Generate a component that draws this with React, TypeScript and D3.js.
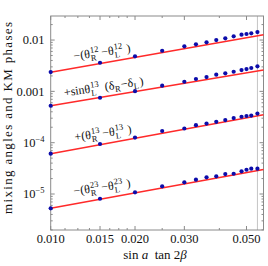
import React from "react";
import * as d3 from "d3";

const xValues = [0.010, 0.015, 0.020, 0.025, 0.030, 0.033, 0.036, 0.039, 0.042, 0.045, 0.048, 0.050, 0.052, 0.0547];
const s12 = [0.00238, 0.00361, 0.00481, 0.00619, 0.00754, 0.00824, 0.00902, 0.0100, 0.0108, 0.0118, 0.0127, 0.0131, 0.0135, 0.0143];
const s13phase = [5.25e-4, 7.51e-4, 1.01e-3, 1.29e-3, 1.54e-3, 1.74e-3, 1.90e-3, 2.11e-3, 2.25e-3, 2.41e-3, 2.60e-3, 2.72e-3, 2.85e-3, 3.07e-3];
const s13 = [6.10e-5, 9.42e-5, 1.26e-4, 1.69e-4, 1.89e-4, 2.19e-4, 2.36e-4, 2.55e-4, 2.76e-4, 3.02e-4, 3.20e-4, 3.31e-4, 3.38e-4, 3.70e-4];
const s23 = [5.26e-6, 8.09e-6, 1.08e-5, 1.41e-5, 1.69e-5, 1.90e-5, 2.11e-5, 2.21e-5, 2.45e-5, 2.48e-5, 2.77e-5, 2.97e-5, 3.11e-5, 3.11e-5];
const seriesList = [s12, s13phase, s13, s23];

// fitted red lines: value at x = 0.010 and at x = 0.0575
const lineX = [0.010, 0.0575];
const lineStart = [0.00235, 5.25e-4, 6.10e-5, 5.26e-6];
const lineEnd = [0.01264, 2.62e-3, 3.49e-4, 3.0e-5];

const xTicks = [0.010, 0.015, 0.020, 0.030, 0.050];
const xTickLabels = ["0.010", "0.015", "0.020", "0.030", "0.050"];
const xMinor = [0.01125, 0.0125, 0.01375, 0.01625, 0.0175, 0.01875, 0.025, 0.04];
const yDecades = [1e-5, 1e-4, 1e-3, 1e-2];
const yMain = ["", "", "0.001", "0.01"];
const yExp = ["\u22125", "\u22124", "", ""];
const markerX = 0.0547;

const FONT = "'Liberation Serif', 'Times New Roman', serif";

export default function App() {
  const L = 50.7, R = 263.5, T = 16, B = 230;
  const x = d3.scaleLog().domain([0.01, 0.0575]).range([L, R]);
  const y = d3.scaleLog().domain([1.99e-6, 0.0294]).range([B, T]);

  const minorY: number[] = [];
  for (let e = -6; e <= -2; e++) {
    for (let m = 2; m <= 9; m++) {
      const v = m * Math.pow(10, e);
      if (v > 1.99e-6 && v < 0.0294) minorY.push(v);
    }
  }
  const frame = "#8a8a8a";
  const FS = 12;
  const SM = 8.5;

  const labelParts = (pre: string, sp: string, sb1: string, sb2: string) => {
    const w = SM * 0.5 * sp.length;
    return (
      <text fontFamily={FONT} fontSize={FS} fill="#111">
        <tspan>{pre}</tspan>
        <tspan fontSize={SM} dx={0.5} dy={-4.8}>{sp}</tspan>
        <tspan fontSize={SM} dx={-w} dy={8.3}>{sb1}</tspan>
        <tspan dx={w - SM * 0.6 + 2} dy={-3.5}>{"\u2212\u03B8"}</tspan>
        <tspan fontSize={SM} dx={0.5} dy={-4.8}>{sp}</tspan>
        <tspan fontSize={SM} dx={-w} dy={8.3}>{sb2}</tspan>
        <tspan dx={w - SM * 0.55 + 3.5} dy={-3.5}>{")"}</tspan>
      </text>
    );
  };

  return (
    <svg width={268} height={266} style={{ position: "absolute", left: 0, top: 0, background: "#fff" }}>
      <line x1={x(markerX)} x2={x(markerX)} y1={T} y2={B} stroke="#c4c4c4" strokeWidth={1} />
      <rect x={L} y={T} width={R - L} height={B - T} fill="none" stroke={frame} strokeWidth={1} />
      {xTicks.map((t, i) => (
        <g key={"xt" + i}>
          <line x1={x(t)} x2={x(t)} y1={B} y2={B - 4} stroke={frame} />
          <line x1={x(t)} x2={x(t)} y1={T} y2={T + 4} stroke={frame} />
          <text x={x(t)} y={243} textAnchor="middle" fontFamily={FONT} fontSize={12.5} fill="#111">
            {xTickLabels[i]}
          </text>
        </g>
      ))}
      {xMinor.map((t, i) => (
        <g key={"xm" + i}>
          <line x1={x(t)} x2={x(t)} y1={B} y2={B - 2} stroke={frame} />
          <line x1={x(t)} x2={x(t)} y1={T} y2={T + 2} stroke={frame} />
        </g>
      ))}
      {yDecades.map((t, i) => (
        <g key={"yt" + i}>
          <line x1={L} x2={L + 4} y1={y(t)} y2={y(t)} stroke={frame} />
          <line x1={R} x2={R - 4} y1={y(t)} y2={y(t)} stroke={frame} />
          {yMain[i] ? (
            <text x={44.5} y={y(t) + 4.3} textAnchor="end" fontFamily={FONT} fontSize={12.5} fill="#111">
              {yMain[i]}
            </text>
          ) : (
            <text x={44.5} y={y(t) + 4.3} textAnchor="end" fontFamily={FONT} fontSize={12.5} fill="#111">
              <tspan>10</tspan>
              <tspan fontSize={8.5} dy={-5}>{yExp[i]}</tspan>
            </text>
          )}
        </g>
      ))}
      {minorY.map((t, i) => (
        <g key={"ym" + i}>
          <line x1={L} x2={L + 2} y1={y(t)} y2={y(t)} stroke={frame} />
          <line x1={R} x2={R - 2} y1={y(t)} y2={y(t)} stroke={frame} />
        </g>
      ))}
      {lineStart.map((v, i) => (
        <path
          key={"ln" + i}
          d={d3
            .line<number>()
            .x((d, j) => x(lineX[j]))
            .y((d) => y(d))([v, lineEnd[i]]) || ""}
          stroke="#ff2a2a"
          strokeWidth={1.5}
          fill="none"
        />
      ))}
      {seriesList.map((s, si) =>
        s.map((v, j) => (
          <circle key={"d" + si + "_" + j} cx={x(xValues[j])} cy={y(v)} r={2.1} fill="#0c0caa" />
        ))
      )}
      <g transform="translate(74,60) rotate(-8)">
        {labelParts("\u2212(\u03B8", "12", "R", "L")}
      </g>
      <g transform="translate(64.5,96.5) rotate(-8.3)">
        <text fontFamily={FONT} fontSize={FS} fill="#111">
          <tspan>{"+sin\u03B8"}</tspan>
          <tspan fontSize={SM} dx={0.5} dy={-4.8}>{"13"}</tspan>
          <tspan fontSize={SM} dx={-8.5} dy={8.3}>{"L"}</tspan>
          <tspan dx={9} dy={-3.5}>{"(\u03B4"}</tspan>
          <tspan fontSize={SM} dx={0.3} dy={3}>{"R"}</tspan>
          <tspan dx={0.5} dy={-3}>{"\u2212\u03B4"}</tspan>
          <tspan fontSize={SM} dx={0.3} dy={3}>{"L"}</tspan>
          <tspan dx={1} dy={-3}>{")"}</tspan>
        </text>
      </g>
      <g transform="translate(75,141) rotate(-8)">
        {labelParts("+(\u03B8", "13", "R", "L")}
      </g>
      <g transform="translate(74,195) rotate(-8)">
        {labelParts("\u2212(\u03B8", "23", "R", "L")}
      </g>
      <text x={155} y={259} textAnchor="middle" fontFamily={FONT} fontSize={13} fill="#111">
        <tspan>{"sin "}</tspan>
        <tspan fontStyle="italic">{"a"}</tspan>
        <tspan>{"\u2002tan 2"}</tspan>
        <tspan fontStyle="italic">{"\u03B2"}</tspan>
      </text>
      <text
        transform="translate(11.5,118) rotate(-90)"
        textAnchor="middle"
        fontFamily={FONT}
        fontSize={13}
        fill="#111"
        textLength={192}
        lengthAdjust="spacing"
      >
        mixing angles and KM phases
      </text>
    </svg>
  );
}
